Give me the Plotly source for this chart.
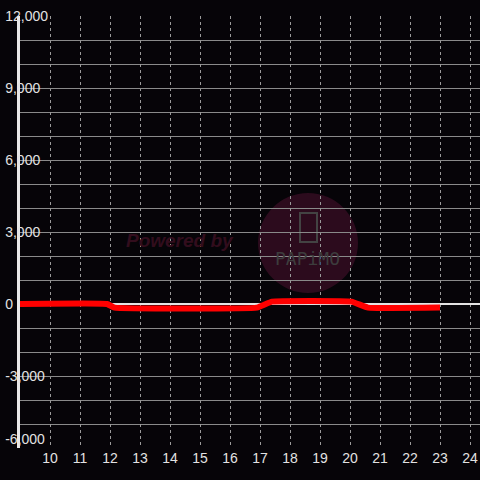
import plotly.graph_objects as go

# hour of day vs. value
hours = [9.0, 11.9, 12.15, 16.9, 17.4, 20.05, 20.6, 23.0]
values = [0, 0, -150, -150, 100, 100, -150, -150]

y_ticks = [-6000, -3000, 0, 3000, 6000, 9000, 12000]
# bottom label is lifted a little off the x labels, as in the original
y_labels = ["-6,000<br>&nbsp;", "-3,000", "0", "3,000", "6,000", "9,000", "12,000"]
x_ticks = list(range(10, 25))

BG = "#060408"
GRID = "#8a8a8a"
TEXT = "#e2e2e2"


def to_paper(px, py):
    # plot area is 20..480 wide, 16..448 tall
    return (px - 20) / 460, (448 - py) / 432


fig = go.Figure()

fig.add_trace(go.Scatter(
    x=hours, y=values,
    mode="lines",
    line=dict(color="#ff0000", width=6, shape="spline", smoothing=0.3),
    hoverinfo="skip",
    showlegend=False,
))

# watermark
cx0, cy0 = to_paper(258, 293)
cx1, cy1 = to_paper(358, 193)
px0, py0 = to_paper(300, 242)
px1, py1 = to_paper(317, 213)
fig.add_shape(type="circle", xref="paper", yref="paper", layer="below",
              x0=cx0, y0=cy0, x1=cx1, y1=cy1,
              fillcolor="#2c0b1d", line=dict(width=0))
fig.add_shape(type="rect", xref="paper", yref="paper", layer="below",
              x0=px0, y0=py0, x1=px1, y1=py1,
              line=dict(color="#434343", width=2))

tx, ty = to_paper(180, 241)
fig.add_annotation(text="<b><i>Powered by</i></b>", xref="paper", yref="paper",
                   x=tx, y=ty, showarrow=False,
                   font=dict(family="Liberation Sans", size=19, color="#320d1d"))
lx, ly = to_paper(307.5, 258)
fig.add_annotation(text="PAPiMO", xref="paper", yref="paper",
                   x=lx, y=ly, showarrow=False,
                   font=dict(family="DejaVu Sans Mono", size=18, color="#3d3d3d"))

fig.update_layout(
    width=480, height=480,
    margin=dict(l=20, r=0, t=16, b=32, autoexpand=False),
    paper_bgcolor=BG,
    plot_bgcolor=BG,
    font=dict(family="Liberation Sans", size=14, color=TEXT),
)

fig.update_xaxes(
    range=[9, 24 + 10 / 30],
    tickmode="array", tickvals=x_ticks,
    showgrid=True, gridcolor="#9a9a9a", griddash="dot", gridwidth=1,
    zeroline=False, showline=False, ticks="",
    tickfont=dict(size=14, color=TEXT),
    automargin=False,
)

fig.update_yaxes(
    range=[-6000, 12000],
    tickmode="array", tickvals=y_ticks, ticktext=y_labels,
    showgrid=True, gridcolor=GRID, gridwidth=1,
    minor=dict(dtick=1000, showgrid=True, gridcolor=GRID, gridwidth=1),
    zeroline=True, zerolinecolor="#e4e4e4", zerolinewidth=2,
    showline=True, linecolor="#e8e8e8", linewidth=3,
    ticks="", ticklabelposition="inside", ticklabelstandoff=-15,
    ticklabeloverflow="allow",
    tickfont=dict(size=14, color=TEXT),
    automargin=False,
)

# drop the default body margin so the chart sits at the page corner
fig.write_html("out.html", config={"displayModeBar": False},
               post_script="document.body.style.margin = '0';")
